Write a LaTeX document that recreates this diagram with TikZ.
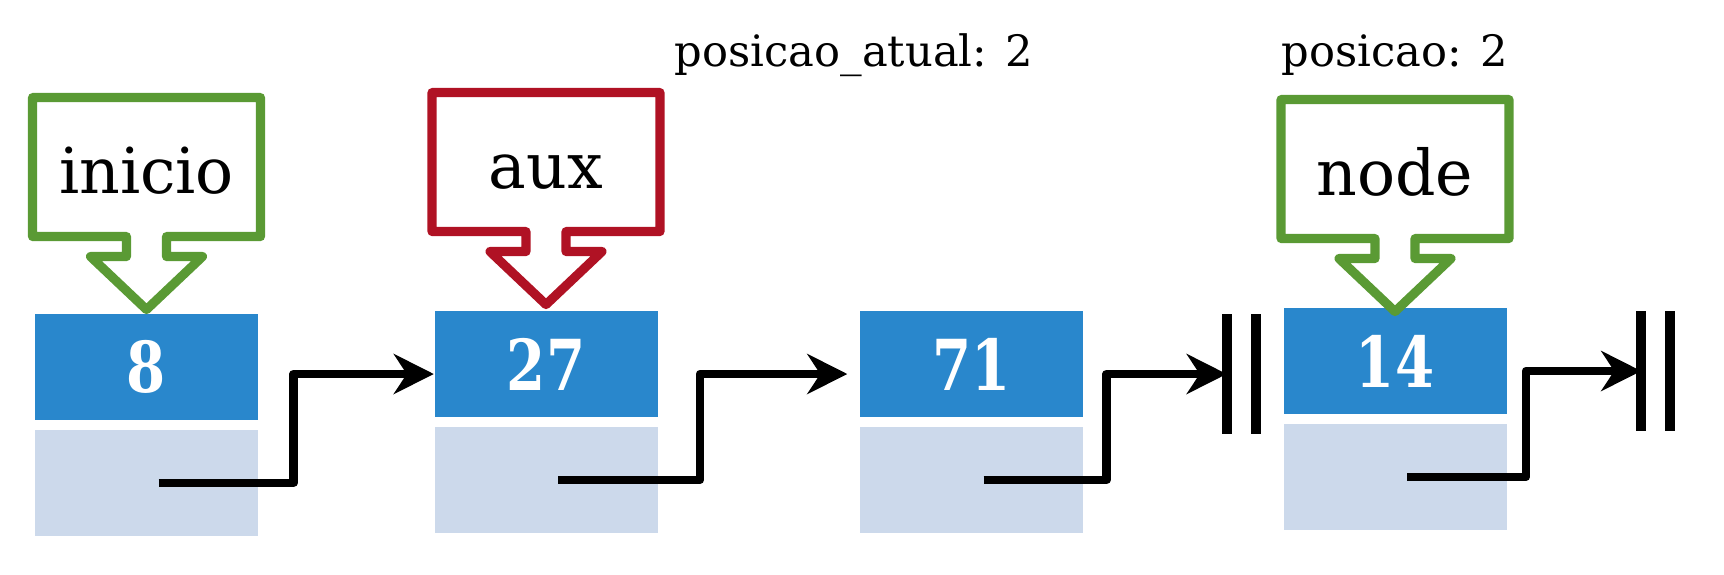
\documentclass[tikz,border=0pt]{standalone}
\usepackage{fontspec}
\setmainfont{DejaVu Serif}
\newfontfamily\numfont[FakeStretch=0.8]{DejaVu Serif}
\usetikzlibrary{positioning,arrows.meta}
\definecolor{azul}{RGB}{41,135,204}
\definecolor{azulclaro}{RGB}{204,217,235}
\definecolor{verde}{RGB}{90,154,52}
\definecolor{vermelho}{RGB}{176,18,36}
\tikzset{
  dado/.style={fill=azul,text=white,minimum width=2.23cm,minimum height=1.055cm,inner sep=0pt,font=\numfont\bfseries\fontsize{20}{20}\selectfont},
  prox/.style={fill=azulclaro,minimum width=2.23cm,minimum height=1.055cm,inner sep=0pt},
  link/.style={line width=2.4pt,line join=round,-{Stealth[length=4mm,width=4mm,inset=1.3mm]}},
  barra/.style={line width=2.8pt},
  seta/.style={line width=2.6pt,line join=round},
  rotulo/.style={font=\fontsize{18}{18}\selectfont,anchor=base},
  info/.style={font=\fontsize{12.3}{12.3}\selectfont,anchor=base}
}
\begin{document}
\begin{tikzpicture}
\useasboundingbox (0,0) rectangle (17.24,-5.74);
% nos da lista
\node[dado] (d1) at (1.465,-3.67) {8};
\node[dado] (d2) at (5.46,-3.64) {27};
\node[dado] (d3) at (9.715,-3.64) {71};
\node[dado] (d4) at (13.95,-3.61) {14};
\foreach \n in {1,...,4} \node[prox,below=0.09cm of d\n] (p\n) {};
% ponteiros
\draw[link] ([xshift=.12cm]p1.center) -- ++(1.35,0) |- ([yshift=-.1cm]d2.west);
\draw[link] ([xshift=.12cm]p2.center) -- ++(1.42,0) |- ([xshift=-.12cm,yshift=-.1cm]d3.west);
\coordinate (nulo3) at ([xshift=1.43cm,yshift=-.1cm]d3.east);
\coordinate (nulo4) at ([xshift=1.34cm,yshift=-.1cm]d4.east);
\draw[link] ([xshift=.12cm]p3.center) -- ++(1.23,0) |- (nulo3);
\draw[link] ([xshift=.12cm]p4.center) -- ++(1.19,0) |- (nulo4);
\foreach \c in {nulo3,nulo4} {
  \draw[barra] ([yshift=.6cm]\c) -- ([yshift=-.6cm]\c);
  \draw[barra] ([xshift=.29cm,yshift=.6cm]\c) -- ([xshift=.29cm,yshift=-.6cm]\c);
}
% variaveis apontando
\foreach \b/\s/\cor/\txt in {d1/0.04/verde/inicio, d2/0.06/vermelho/aux, d4/-0.04/verde/node} {
  \draw[seta,draw=\cor] ([yshift=\s cm]\b.north) -- ++(0.56,0.53) -- ++(-0.36,0) -- ++(0,0.20) -- ++(0.94,0) -- ++(0,1.39) -- ++(-2.28,0) -- ++(0,-1.39) -- ++(0.94,0) -- ++(0,-0.20) -- ++(-0.36,0) -- cycle;
  \node[rotulo] (c-\txt) at ([yshift=\s cm+1.16cm]\b.north) {\txt};
}
\node[info] (atual) at (8.54,-0.66) {posicao\_atual: 2};
\node[info] (pos) at (13.95,-0.66) {posicao: 2};
\end{tikzpicture}
\end{document}
